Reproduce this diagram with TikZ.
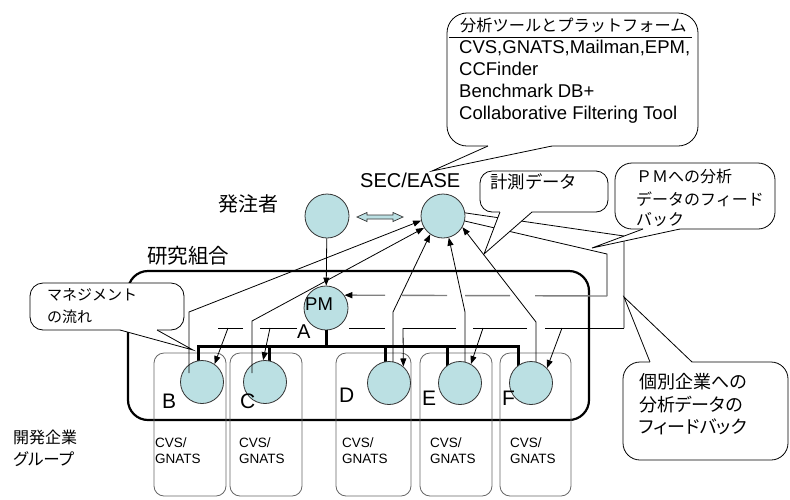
\documentclass[tikz,border=0pt]{standalone}
\usepackage{fontspec}
\setmainfont{Liberation Sans}
\newfontfamily\jp[RawFeature=+palt]{Noto Sans CJK JP}
\newfontfamily\jpm{Noto Sans CJK JP}
\usetikzlibrary{arrows.meta,calc}
\definecolor{cfill}{HTML}{BBE0E3}
\definecolor{edge}{HTML}{333333}
\newcommand\fs[1]{\fontsize{#1}{#1}\selectfont}
\newcommand\callshape[7]{%
  \filldraw[callbox, rounded corners=#3] #1 rectangle #2;
  \fill[white] #4 -- #5 -- #6 -- ($#6+#7$) -- ($#4+#7$) -- cycle;
  \draw[callline] #4 -- #5 -- #6;
}
\begin{document}
\begin{tikzpicture}[x=1pt,y=-1pt,
  every node/.style={inner sep=0pt},
  circ/.style={circle, draw=edge, fill=cfill, line width=0.8pt, minimum size=44pt},
  ccirc/.style={circ, minimum size=43pt},
  thin/.style={line width=0.8pt},
  arr/.style={thin, -{Triangle[length=8pt,width=6pt]}},
  bus/.style={line width=3pt},
  cobox/.style={draw=black!60, line width=0.8pt, rounded corners=10pt},
  callbox/.style={draw=black, fill=white, line width=0.8pt},
  callline/.style={draw=black, line width=0.8pt},
  lbl/.style={anchor=base west}]
\useasboundingbox (0,0) rectangle (790,499);

% research union frame
\node[draw, line width=2.2pt, rounded corners=20pt, minimum width=461pt, minimum height=149pt] (kumiai) at (358.5,345.5) {};

% company boxes
\foreach \n/\bx/\bw in {B/190/72, C/266/72, D/373.5/75, E/456/72, F/535.5/71}
  \node[cobox, minimum width=\bw pt, minimum height=143pt] (box\n) at (\bx,424.5) {};

% management bus
\coordinate (bj) at (326,346);
\coordinate (dB) at (198,366);
\coordinate (dC) at (269,366);
\coordinate (dD) at (385,366);
\coordinate (dE) at (447,366);
\coordinate (dF) at (518,366);
\draw[bus] (dB) -- (dB |- bj) -- (dF |- bj) -- (dF);
\draw[bus] (dC |- bj) -- (dC);
\draw[bus] (dD |- bj) -- (dD);
\draw[bus] (dE |- bj) -- (dE);

% top circles
\node[circ] (hc) at (327,216) {};
\node[circ] (sec) at (443,216) {};
\node[circ] (pm) at (326,308) {};
\draw[bus] (pm.south) -- (bj);

% double arrow between client and SEC
\filldraw[fill=cfill, draw=edge, line width=0.7pt] (357,217) -- (367,212.5) -- (367,215) -- (393,215) -- (393,212.5) -- (403,217) -- (393,221.5) -- (393,219) -- (367,219) -- (367,221.5) -- cycle;

% feedback lines
\coordinate (k1) at (624,236);
\coordinate (k2) at (624,328);
\coordinate (k3) at (218,328);
\draw[thin] (sec.8) -- (k1) -- (k2);
\draw[thin, dash pattern=on 79pt off 18pt on 54pt off 17pt on 53pt off 18pt on 36pt off 52pt on 37pt off 17pt on 40pt] (k2) -- (k3);
\coordinate (g1) at (607,254);
\coordinate (g2) at (607,296);
\draw[thin] (sec.-13) -- (g1) -- (g2);
\draw[line width=1.4pt, draw=black!50, dash pattern=on 72pt off 25pt on 45pt off 18pt on 45pt off 17pt on 70pt, -{Triangle[length=8pt,width=6pt,color=black]}] (g2) -- (pm.35);

% client -> PM
\draw[arr] (hc) -- (pm);

% company circles
\foreach \n/\cx/\cy in {B/202/382, C/265/382, D/389/383, E/460/383, F/531/383}
  \node[ccirc] (c\n) at (\cx,\cy) {};

% letters and tool texts
\foreach \n/\lx/\lb/\tx in {B/162/408/155, C/240/408/239, D/339/402/342, E/422/405/430, F/502/405/510}{
  \node[lbl, font=\fs{21}] (L\n) at (\lx,\lb) {\n};
  \node[lbl, font=\fs{13.5}] (Ta\n) at (\tx,447) {CVS/};
  \node[lbl, font=\fs{13.5}] (Tb\n) at (\tx,463) {GNATS};
}

% measurement data: companies -> SEC/EASE
\coordinate (mB) at (189,373);
\coordinate (mC) at (252,373);
\coordinate (mD) at (393,362);
\coordinate (mE) at (465,362);
\coordinate (mF) at (536,362);
\draw[arr] (mB) -- (189,312) -- (sec.192);
\draw[arr] (mC) -- (252,321) -- (sec.212);
\draw[arr] (mD) -- (393,312) -- (sec.235);
\draw[arr] (mE) -- (465,312) -- (sec.285);
\draw[arr] (mF) -- (536,322) -- (sec.330);

% feedback arrows to companies
\coordinate (fB) at (228,328);
\coordinate (fC) at (270,328);
\coordinate (fD) at (403,328);
\coordinate (fE) at (483,328);
\coordinate (fF) at (562,328);
\draw[arr] (fB) -- (cB.55);
\draw[arr] (fC) -- (cC.95);
\draw[arr] (fD) -- (cD.49);
\draw[arr] (fE) -- (cE.60);
\draw[arr] (fF) -- (cF.43);

% labels
\node[lbl, font=\jpm\fs{20}] (hcl) at (218,211) {発注者};
\node[lbl, font=\fs{20}] (secl) at (360,187) {SEC/EASE};
\node[lbl, font=\jpm\fs{20.5}] (kl) at (147,263) {研究組合};
\node[lbl, font=\fs{18.5}] (pml) at (305,310) {PM};
\node[lbl, font=\fs{20}] (al) at (297,338) {A};
\node[lbl, font=\jpm\fs{16}] (g1l) at (13,443.5) {開発企業};
\node[lbl, font=\jp\fs{16.5}] (g2l) at (13,465) {グループ};

% callouts
\callshape{(447,13)}{(698,146)}{20pt}{(488,146)}{(432,171)}{(552,146)}{(0,-2)}
\draw[thin] (449,37) -- (692,37);
\node[lbl, font=\jpm\fs{16.2}] (ct0) at (460,31) {分析ツールとプラットフォーム};
\node[lbl, font=\fs{18.5}] (ct1) at (459,53) {CVS,GNATS,Mailman,EPM,};
\node[lbl, font=\fs{18.5}] (ct2) at (459,75) {CCFinder};
\node[lbl, font=\fs{18.5}] (ct3) at (459,97) {Benchmark DB+};
\node[lbl, font=\fs{18.5}] (ct4) at (459,119) {Collaborative Filtering Tool};

\callshape{(480,171)}{(608,212)}{12pt}{(500,212)}{(484,254)}{(532,212)}{(0,-2)}
\node[lbl, font=\jpm\fs{17.4}] (kd) at (490,188) {計測データ};

\callshape{(615,163)}{(775,229)}{17pt}{(643,229)}{(592,248)}{(680,229)}{(0,-2)}
\node[lbl, font=\jpm\fs{16}] (pf1) at (636,182) {ＰＭへの分析};
\node[lbl, font=\jpm\fs{16}] (pf2) at (636,205) {データのフィード};
\node[lbl, font=\jpm\fs{16}] (pf3) at (636,225) {バック};

\callshape{(30,283)}{(184,330)}{13pt}{(120,330)}{(193,350)}{(157,330)}{(0,-2)}
\node[lbl, font=\jpm\fs{15}] (mg1) at (47,300.5) {マネジメント};
\node[lbl, font=\jpm\fs{15}] (mg2) at (47,322.5) {の流れ};

\callshape{(623,362)}{(788,460)}{17pt}{(650,362)}{(624,297)}{(692,362)}{(0,2)}
\node[lbl, font=\jp\fs{18}] (cf1) at (639,388) {個別企業への};
\node[lbl, font=\jp\fs{18}] (cf2) at (639,411) {分析データの};
\node[lbl, font=\jp\fs{18}] (cf3) at (639,433) {フィードバック};
\end{tikzpicture}
\end{document}
